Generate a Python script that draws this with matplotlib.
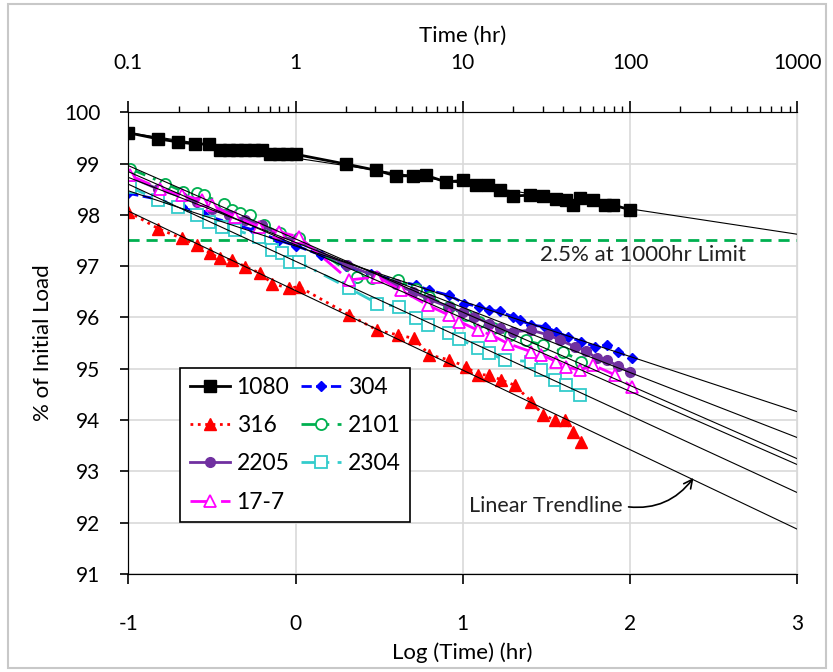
import numpy as np
import matplotlib
matplotlib.use('Agg')
import matplotlib.pyplot as plt
from matplotlib.ticker import FuncFormatter, LogLocator, NullFormatter, FixedLocator
from matplotlib.patches import Rectangle

plt.rcParams['font.family'] = ['Lato', 'DejaVu Sans']
plt.rcParams['axes.unicode_minus'] = False

# log10(time in hr) and % of initial load
x_1080 = [-1.0, -0.82, -0.70, -0.60, -0.52, -0.45, -0.40, -0.35, -0.30, -0.25, -0.20, -0.15, -0.10,
          -0.05, 0.0, 0.30, 0.48, 0.60, 0.70, 0.78, 0.90, 1.0, 1.08, 1.15, 1.22, 1.30, 1.40, 1.48,
          1.56, 1.62, 1.66, 1.70, 1.78, 1.85, 1.90, 2.0]
y_1080 = [99.6, 99.48, 99.42, 99.38, 99.38, 99.27, 99.26, 99.26, 99.26, 99.26, 99.27, 99.18, 99.18,
          99.18, 99.18, 98.99, 98.87, 98.76, 98.76, 98.77, 98.64, 98.67, 98.58, 98.58, 98.48, 98.37,
          98.38, 98.36, 98.30, 98.29, 98.20, 98.32, 98.29, 98.20, 98.19, 98.10]

x_304 = [-1.0, -0.82, -0.68, -0.55, -0.40, -0.25, -0.10, 0.0, 0.15, 0.30, 0.45, 0.60, 0.72, 0.80,
         0.92, 1.01, 1.10, 1.16, 1.22, 1.30, 1.34, 1.41, 1.49, 1.56, 1.63, 1.71, 1.79, 1.86, 1.93, 2.01]
y_304 = [98.42, 98.30, 98.15, 98.0, 97.85, 97.70, 97.50, 97.40, 97.22, 97.0, 96.85, 96.72, 96.63, 96.53,
         96.43, 96.27, 96.21, 96.14, 96.12, 96.01, 95.95, 95.85, 95.82, 95.72, 95.62, 95.53, 95.43,
         95.46, 95.33, 95.20]

x_316 = [-1.0, -0.82, -0.68, -0.59, -0.51, -0.45, -0.38, -0.30, -0.21, -0.14, -0.04, 0.02, 0.32, 0.49,
         0.61, 0.71, 0.80, 0.92, 1.02, 1.09, 1.16, 1.23, 1.31, 1.41, 1.48, 1.55, 1.61, 1.66, 1.71]
y_316 = [98.06, 97.73, 97.54, 97.41, 97.25, 97.15, 97.12, 96.99, 96.86, 96.66, 96.57, 96.60, 96.05,
         95.75, 95.66, 95.59, 95.27, 95.17, 95.04, 94.88, 94.88, 94.78, 94.68, 94.36, 94.10, 94.0,
         94.0, 93.77, 93.58]

x_2101 = [-0.99, -0.78, -0.67, -0.59, -0.55, -0.43, -0.38, -0.33, -0.27, -0.19, -0.09, 0.02, 0.37,
          0.46, 0.61, 0.72, 0.80, 0.92, 1.02, 1.10, 1.18, 1.28, 1.38, 1.48, 1.60, 1.71]
y_2101 = [98.90, 98.61, 98.45, 98.42, 98.38, 98.22, 98.09, 98.03, 97.99, 97.80, 97.64, 97.54, 96.79,
          96.76, 96.73, 96.55, 96.40, 96.20, 96.05, 95.92, 95.80, 95.65, 95.55, 95.46, 95.33, 95.14]

x_2205 = [-0.99, -0.82, -0.68, -0.59, -0.50, -0.40, -0.30, -0.20, -0.10, 0.0, 0.31, 0.48, 0.60, 0.70,
          0.80, 0.92, 1.0, 1.07, 1.16, 1.22, 1.30, 1.41, 1.51, 1.58, 1.67, 1.74, 1.80, 1.86, 1.93, 2.0]
y_2205 = [98.74, 98.50, 98.35, 98.25, 98.12, 98.0, 97.90, 97.80, 97.60, 97.50, 97.02, 96.80, 96.65,
          96.50, 96.35, 96.20, 96.10, 96.01, 95.88, 95.80, 95.72, 95.75, 95.66, 95.56, 95.43, 95.35,
          95.20, 95.17, 95.05, 94.94]

x_2304 = [-0.99, -0.82, -0.70, -0.59, -0.52, -0.44, -0.36, -0.22, -0.14, -0.08, -0.03, 0.02, 0.32,
          0.49, 0.62, 0.72, 0.79, 0.92, 0.98, 1.09, 1.16, 1.25, 1.41, 1.47, 1.55, 1.62, 1.70]
y_2304 = [98.54, 98.29, 98.16, 97.99, 97.86, 97.77, 97.70, 97.57, 97.31, 97.25, 97.08, 97.08, 96.57,
          96.27, 96.21, 95.98, 95.85, 95.69, 95.58, 95.40, 95.30, 95.17, 95.14, 94.97, 94.78, 94.68,
          94.49]

x_177 = [-0.99, -0.81, -0.68, -0.56, -0.50, -0.36, -0.22, -0.10, 0.02, 0.32, 0.49, 0.63, 0.79, 0.92,
         0.98, 1.09, 1.17, 1.27, 1.41, 1.47, 1.56, 1.62, 1.70, 1.78, 1.91, 2.01]
y_177 = [98.77, 98.51, 98.38, 98.29, 98.19, 97.96, 97.77, 97.67, 97.57, 96.73, 96.79, 96.53, 96.24,
         96.04, 95.92, 95.75, 95.66, 95.49, 95.33, 95.27, 95.14, 95.04, 94.97, 95.07, 94.88, 94.65]

limit_load = 97.5

series = [
    ('1080', x_1080, y_1080, dict(color='black', ls='-', marker='s', ms=8, mfc='black')),
    ('304', x_304, y_304, dict(color='#0000ff', ls='--', marker='D', ms=5, mfc='#0000ff')),
    ('316', x_316, y_316, dict(color='#ff0000', ls=':', marker='^', ms=8, mfc='#ff0000')),
    ('2101', x_2101, y_2101, dict(color='#00b050', ls=(0, (6, 3, 1, 3)), marker='o', ms=8, mfc='white', mew=1.3)),
    ('2205', x_2205, y_2205, dict(color='#7030a0', ls='-', marker='o', ms=7, mfc='#7030a0')),
    ('2304', x_2304, y_2304, dict(color='#33cccc', ls=(0, (6, 3, 1, 3)), marker='s', ms=8, mfc='white', mew=1.3)),
    ('17-7', x_177, y_177, dict(color='#ff00ff', ls=(0, (8, 3)), marker='^', ms=8, mfc='white', mew=1.3)),
]

fig = plt.figure(figsize=(8.33, 6.72), dpi=100)
ax = fig.add_axes([0.154, 0.146, 0.803, 0.687])

handles = {}
for name, xs, ys, st in series:
    h, = ax.plot(xs, ys, lw=2, label=name, zorder=3, **st)
    handles[name] = h

# linear trendlines extended to log(time)=3
xt = np.array([-1.0, 3.0])
for name, xs, ys, st in series:
    k, b = np.polyfit(xs, ys, 1)
    ax.plot(xt, k * xt + b, color='black', lw=0.8, zorder=4)

ax.axhline(limit_load, color='#00b050', ls=(0, (4, 2.5)), lw=2, zorder=2)
ax.text(2.08, 97.22, '2.5% at 1000hr Limit', fontsize=16, color='#222222', ha='center', va='center')

ax.annotate('Linear Trendline', xy=(2.38, 92.87), xytext=(1.04, 92.32), fontsize=15.5, color='#222222',
            va='center', ha='left',
            arrowprops=dict(arrowstyle='->', color='black', lw=1.2, connectionstyle='arc3,rad=0.3',
                            relpos=(1, 0.5), shrinkA=2, shrinkB=0))

ax.set_xlim(-1, 3)
ax.set_ylim(91, 100)
ax.set_xticks([-1, 0, 1, 2, 3])
ax.set_yticks(range(91, 101))
ax.grid(True, color='#d9d9d9', lw=1.2)
ax.set_axisbelow(True)
ax.spines['right'].set_color('#d9d9d9')
ax.tick_params(axis='x', direction='out', length=7, width=1.2, pad=22, labelsize=15)
ax.tick_params(axis='y', direction='out', length=6, width=1.2, pad=14, labelsize=15)
ax.set_xlabel('Log (Time) (hr)', fontsize=16, labelpad=6)
ax.set_ylabel('% of Initial Load', fontsize=16, labelpad=8)

ax2 = ax.twiny()
ax2.set_xscale('log')
ax2.set_xlim(0.1, 1000)
ax2.xaxis.set_major_locator(FixedLocator([0.1, 1, 10, 100, 1000]))
ax2.xaxis.set_major_formatter(FuncFormatter(lambda v, p: f'{v:g}'))
ax2.xaxis.set_minor_locator(LogLocator(base=10, subs=np.arange(2, 10)))
ax2.xaxis.set_minor_formatter(NullFormatter())
ax2.tick_params(axis='x', which='major', direction='out', length=8, width=1.2, pad=20, labelsize=15)
ax2.tick_params(axis='x', which='minor', direction='out', length=4, width=1)
ax2.set_xlabel('Time (hr)', fontsize=16, labelpad=8)
ax2.spines['right'].set_color('#d9d9d9')

order = ['1080', '316', '2205', '17-7', '304', '2101', '2304']
leg = ax.legend([handles[n] for n in order], order, ncol=2, loc='lower left',
                bbox_to_anchor=(0.078, 0.113), borderaxespad=0, fontsize=16.5, frameon=True,
                fancybox=False, edgecolor='black', framealpha=1, handlelength=1.75,
                handletextpad=0.3, columnspacing=0.5, labelspacing=0.75, borderpad=0.4)
leg.get_frame().set_linewidth(1.2)
leg.set_zorder(10)

fig.patches.append(Rectangle((0.0096, 0.006), 0.982, 0.988, transform=fig.transFigure,
                             fill=False, edgecolor='#c8c8c8', lw=1.5))

fig.savefig('out.png', dpi=100)
